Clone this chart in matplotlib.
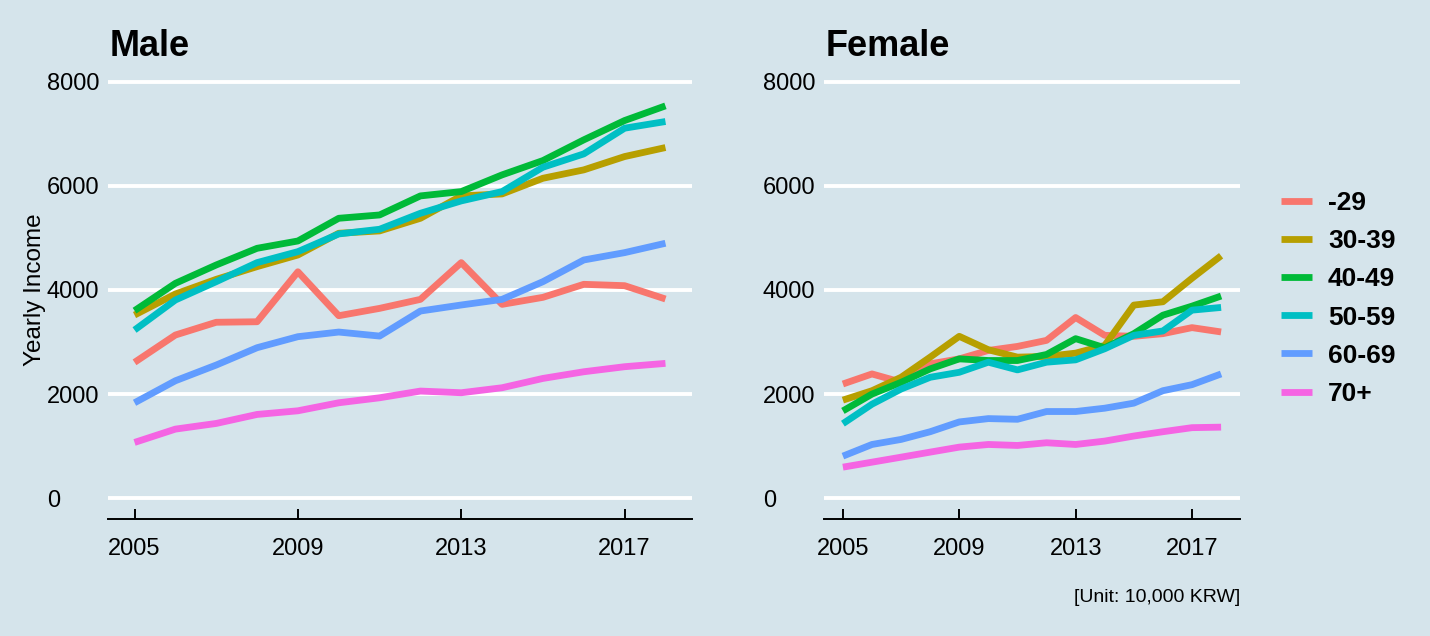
import matplotlib
matplotlib.use("Agg")
import matplotlib.pyplot as plt
from matplotlib.lines import Line2D

plt.rcParams['font.family'] = ['Liberation Sans', 'DejaVu Sans']

years = list(range(2005, 2019))
groups = ["-29", "30-39", "40-49", "50-59", "60-69", "70+"]
colors = ["#F8766D", "#B79F00", "#00BA38", "#00BFC4", "#619CFF", "#F564E3"]

male_u29 = [2610, 3135, 3380, 3390, 4350, 3506, 3647, 3820, 4526, 3724, 3859, 4109, 4083, 3827]
male_30 = [3519, 3923, 4205, 4449, 4673, 5090, 5135, 5378, 5808, 5846, 6147, 6308, 6564, 6737]
male_40 = [3603, 4128, 4481, 4801, 4942, 5378, 5442, 5808, 5891, 6212, 6487, 6885, 7256, 7538]
male_50 = [3231, 3808, 4160, 4526, 4737, 5077, 5167, 5474, 5712, 5891, 6359, 6615, 7109, 7237]
male_60 = [1833, 2256, 2558, 2891, 3103, 3192, 3115, 3596, 3712, 3820, 4160, 4577, 4718, 4898]
male_70 = [1071, 1327, 1436, 1609, 1679, 1833, 1929, 2058, 2026, 2122, 2301, 2429, 2526, 2590]

female_u29 = [2194, 2387, 2230, 2581, 2677, 2839, 2916, 3032, 3471, 3129, 3110, 3161, 3277, 3194]
female_30 = [1884, 2065, 2323, 2710, 3110, 2852, 2710, 2723, 2787, 2935, 3710, 3774, 4226, 4658]
female_40 = [1677, 2000, 2226, 2484, 2677, 2645, 2645, 2761, 3065, 2890, 3161, 3516, 3690, 3884]
female_50 = [1432, 1806, 2097, 2323, 2419, 2613, 2465, 2613, 2658, 2871, 3129, 3213, 3613, 3665]
female_60 = [808, 1032, 1129, 1277, 1465, 1529, 1516, 1665, 1665, 1729, 1826, 2065, 2181, 2387]
female_70 = [596, 692, 788, 885, 981, 1032, 1013, 1065, 1032, 1097, 1194, 1277, 1355, 1365]

male = [male_u29, male_30, male_40, male_50, male_60, male_70]
female = [female_u29, female_30, female_40, female_50, female_60, female_70]

xticks = [2005, 2009, 2013, 2017]
yticks = [0, 2000, 4000, 6000, 8000]

BG = "#D5E4EB"
W, H = 1430, 636
fig = plt.figure(figsize=(W / 100, H / 100), dpi=100, facecolor=BG)


def fx(px):
    return px / W


def fy(py):
    return 1 - py / H


ax_m = fig.add_axes([fx(108), fy(519), (692 - 108) / W, (519 - 61) / H])
ax_f = fig.add_axes([fx(824), fy(519), (1240 - 824) / W, (519 - 61) / H])

LW = 4.9
for ax, data, title, tx in [(ax_m, male, "Male", 110), (ax_f, female, "Female", 826)]:
    ax.set_facecolor(BG)
    for vals, c, g in zip(data, colors, groups):
        ax.plot(years, vals, color=c, lw=LW, label=g, solid_capstyle='butt', zorder=3)
    ax.set_xlim(2004.35, 2018.65)
    ax.set_ylim(-400, 8400)
    ax.set_xticks(xticks)
    ax.set_xticklabels([str(t) for t in xticks])
    ax.set_yticks(yticks)
    ax.set_yticklabels([str(t) for t in yticks])
    ax.grid(axis='y', color='white', lw=2.8, zorder=1)
    ax.grid(axis='x', visible=False)
    ax.set_axisbelow(True)
    for s in ['top', 'right', 'left']:
        ax.spines[s].set_visible(False)
    ax.spines['bottom'].set_color('black')
    ax.spines['bottom'].set_linewidth(1.4)
    ax.tick_params(axis='x', direction='in', length=7.2, width=1.4, color='black',
                   labelsize=17, pad=13.5)
    ax.tick_params(axis='y', length=0, labelsize=17, pad=44)
    for lab in ax.get_yticklabels():
        lab.set_horizontalalignment('left')
    fig.text(fx(tx), fy(56), title, fontsize=26, fontweight='bold', ha='left', va='baseline')

fig.text(fx(35), fy(290), "Yearly Income", rotation=90, fontsize=17.5, ha='center', va='center')
fig.text(fx(1240), fy(598), "[Unit: 10,000 KRW]", fontsize=14, ha='right', va='center')

handles = [Line2D([0], [0], color=c, lw=LW, solid_capstyle='butt') for c in colors]
leg = fig.legend(handles, groups, loc='upper left', bbox_to_anchor=(fx(1268), fy(178)),
                 frameon=False, prop={'size': 19, 'weight': 'bold'},
                 handlelength=1.17, handletextpad=0.6, labelspacing=0.535, borderpad=0)

fig.savefig("out.png", dpi=100, facecolor=BG)
